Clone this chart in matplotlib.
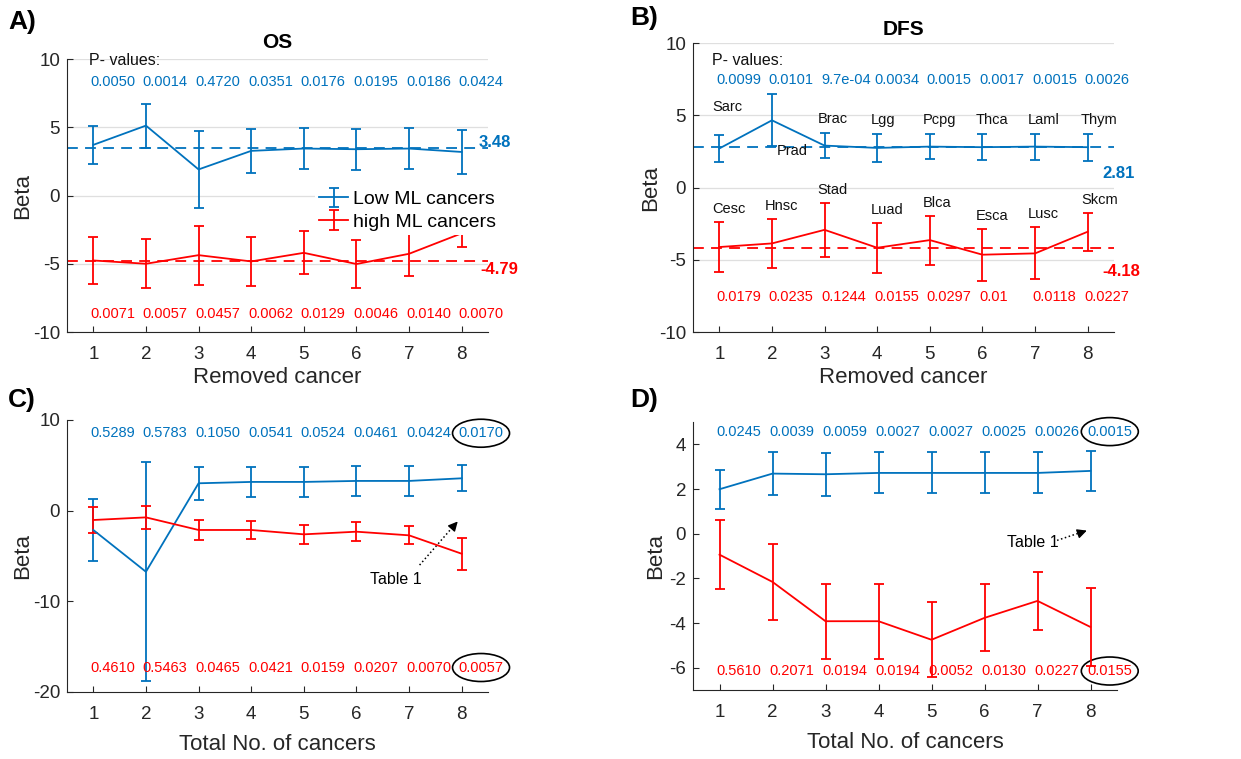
import matplotlib
matplotlib.use('Agg')
import matplotlib.pyplot as plt
from matplotlib.patches import Ellipse
import numpy as np

plt.rcParams['font.family'] = ['Liberation Sans', 'DejaVu Sans']
plt.rcParams['axes.unicode_minus'] = False

# ---- datos ----
x = [1, 2, 3, 4, 5, 6, 7, 8]

# A) OS, quitando un cancer
os_low = [3.71, 5.12, 1.91, 3.27, 3.44, 3.39, 3.44, 3.19]
os_low_err = [1.38, 1.61, 2.83, 1.59, 1.49, 1.50, 1.49, 1.61]
os_high = [-4.76, -5.00, -4.37, -4.83, -4.20, -5.02, -4.27, -2.77]
os_high_err = [1.75, 1.80, 2.17, 1.80, 1.58, 1.78, 1.60, 1.00]
os_p_low = ['0.0050', '0.0014', '0.4720', '0.0351', '0.0176', '0.0195', '0.0186', '0.0424']
os_p_high = ['0.0071', '0.0057', '0.0457', '0.0062', '0.0129', '0.0046', '0.0140', '0.0070']
os_mean_low = 3.48
os_mean_high = -4.79

# B) DFS, quitando un cancer
dfs_low = [2.70, 4.65, 2.90, 2.74, 2.83, 2.79, 2.83, 2.79]
dfs_low_err = [0.96, 1.80, 0.88, 0.96, 0.87, 0.90, 0.90, 0.93]
dfs_high = [-4.12, -3.87, -2.93, -4.17, -3.64, -4.65, -4.56, -3.06]
dfs_high_err = [1.72, 1.72, 1.85, 1.72, 1.70, 1.80, 1.80, 1.30]
dfs_p_low = ['0.0099', '0.0101', '9.7e-04', '0.0034', '0.0015', '0.0017', '0.0015', '0.0026']
dfs_p_high = ['0.0179', '0.0235', '0.1244', '0.0155', '0.0297', '0.01', '0.0118', '0.0227']
dfs_mean_low = 2.81
dfs_mean_high = -4.18
dfs_names_low = ['Sarc', 'Prad', 'Brac', 'Lgg', 'Pcpg', 'Thca', 'Laml', 'Thym']
dfs_names_high = ['Cesc', 'Hnsc', 'Stad', 'Luad', 'Blca', 'Esca', 'Lusc', 'Skcm']

# C) OS, numero total de canceres
tot_os_low = [-2.13, -6.74, 3.02, 3.17, 3.17, 3.28, 3.28, 3.57]
tot_os_low_err = [3.40, 12.10, 1.80, 1.70, 1.70, 1.65, 1.65, 1.45]
tot_os_high = [-1.03, -0.74, -2.13, -2.13, -2.61, -2.32, -2.72, -4.75]
tot_os_high_err = [1.47, 1.25, 1.10, 1.00, 1.05, 1.05, 1.00, 1.75]
tot_os_p_low = ['0.5289', '0.5783', '0.1050', '0.0541', '0.0524', '0.0461', '0.0424', '0.0170']
tot_os_p_high = ['0.4610', '0.5463', '0.0465', '0.0421', '0.0159', '0.0207', '0.0070', '0.0057']

# D) DFS, numero total de canceres
tot_dfs_low = [1.99, 2.69, 2.66, 2.72, 2.72, 2.72, 2.72, 2.81]
tot_dfs_low_err = [0.87, 0.96, 0.96, 0.92, 0.92, 0.92, 0.92, 0.89]
tot_dfs_high = [-0.94, -2.16, -3.92, -3.92, -4.75, -3.77, -3.01, -4.18]
tot_dfs_high_err = [1.55, 1.70, 1.67, 1.67, 1.69, 1.50, 1.30, 1.75]
tot_dfs_p_low = ['0.0245', '0.0039', '0.0059', '0.0027', '0.0027', '0.0025', '0.0026', '0.0015']
tot_dfs_p_high = ['0.5610', '0.2071', '0.0194', '0.0194', '0.0052', '0.0130', '0.0227', '0.0155']

azul = '#0072BD'
rojo = '#FF0000'
gris = '#262626'

W, H = 1241, 759
fig = plt.figure(figsize=(W / 100, H / 100), dpi=100)


def ejes(l, t, r, b):
    return fig.add_axes([l / W, 1 - b / H, (r - l) / W, (b - t) / H])


def estilo(ax, ylim, yticks, grid):
    ax.set_xlim(0.5, 8.5)
    ax.set_ylim(*ylim)
    ax.set_xticks(x)
    ax.set_yticks(yticks)
    for s in ['top', 'right']:
        ax.spines[s].set_visible(False)
    for s in ['left', 'bottom']:
        ax.spines[s].set_color(gris)
        ax.spines[s].set_linewidth(0.8)
    ax.tick_params(direction='in', length=4, width=0.8, colors=gris, labelsize=13.5)
    ax.tick_params(axis='x', pad=10)
    ax.tick_params(axis='y', pad=5)
    if grid:
        ax.yaxis.grid(True, color='#dfdfdf', lw=0.9)
        ax.set_axisbelow(True)


def barras(ax, m, e, c, lab=None):
    return ax.errorbar(x, m, yerr=e, color=c, lw=1.3, elinewidth=1.3,
                       capsize=3.5, capthick=1.3, label=lab)


def pvalores(ax, pl, ph, yl, yh):
    ts = []
    for i, p in enumerate(pl):
        ts.append(ax.text(x[i] - 0.06, yl, p, color=azul, fontsize=10.5, va='center', ha='left'))
    for i, p in enumerate(ph):
        ts.append(ax.text(x[i] - 0.06, yh, p, color=rojo, fontsize=10.5, va='center', ha='left'))
    return ts


# ---- A) OS ----
axA = ejes(67, 59, 488, 332)
estilo(axA, (-10, 10), [-10, -5, 0, 5, 10], True)
barras(axA, os_low, os_low_err, azul, 'Low ML cancers')
barras(axA, os_high, os_high_err, rojo, 'high ML cancers')
axA.axhline(os_mean_low, color=azul, ls='--', lw=1.3, dashes=(6, 4))
axA.axhline(os_mean_high, color=rojo, ls='--', lw=1.3, dashes=(6, 4))
axA.text(8.33, os_mean_low + 0.4, f'{os_mean_low:.2f}', color=azul, fontsize=12,
         fontweight='bold', va='center', clip_on=False)
axA.text(8.35, os_mean_high - 0.65, f'{os_mean_high:.2f}', color=rojo, fontsize=12,
         fontweight='bold', va='center', clip_on=False)
axA.text(0.92, 9.9, 'P- values:', fontsize=11.5, va='center', color='#111111')
pA = pvalores(axA, os_p_low, os_p_high, 8.34, -8.67)
leg = axA.legend(loc='upper left', bbox_to_anchor=(0.59, 0.532), frameon=True, fontsize=14,
                 handlelength=1.5, handletextpad=0.25, labelspacing=0.25, borderpad=0.2,
                 borderaxespad=0)
leg.get_frame().set_edgecolor('none')
leg.get_frame().set_facecolor('white')
leg.get_frame().set_alpha(1)
axA.set_xlabel('Removed cancer', fontsize=16, color=gris, labelpad=3)
axA.set_ylabel('Beta', fontsize=16, color=gris, labelpad=0)
axA.text(0.5, 1.062, 'OS', transform=axA.transAxes, ha='center', va='center',
         fontsize=15, fontweight='bold')

# ---- B) DFS ----
axB = ejes(693, 43, 1114, 332)
estilo(axB, (-10, 10), [-10, -5, 0, 5, 10], True)
barras(axB, dfs_low, dfs_low_err, azul)
barras(axB, dfs_high, dfs_high_err, rojo)
axB.axhline(dfs_mean_low, color=azul, ls='--', lw=1.3, dashes=(6, 4))
axB.axhline(dfs_mean_high, color=rojo, ls='--', lw=1.3, dashes=(6, 4))
axB.text(8.28, dfs_mean_low - 1.85, f'{dfs_mean_low:.2f}', color=azul, fontsize=12,
         fontweight='bold', va='center', clip_on=False)
axB.text(8.28, dfs_mean_high - 1.6, f'{dfs_mean_high:.2f}', color=rojo, fontsize=12,
         fontweight='bold', va='center', clip_on=False)
axB.text(0.87, 8.78, 'P- values:', fontsize=11.5, va='center', color='#111111')
pvalores(axB, dfs_p_low, dfs_p_high, 7.47, -7.58)
# nombres de los canceres quitados
for i, nm in enumerate(dfs_names_low):
    xt, yt = x[i] - 0.13, dfs_low[i] + dfs_low_err[i] + 0.95
    if nm == 'Sarc':
        yt = 5.6
    if nm == 'Prad':
        xt, yt = 2.1, 2.55
    axB.text(xt, yt, nm, fontsize=10.5, va='center', ha='left', color='#111111')
for i, nm in enumerate(dfs_names_high):
    axB.text(x[i] - 0.13, dfs_high[i] + dfs_high_err[i] + 0.9, nm, fontsize=10.5,
             va='center', ha='left', color='#111111')
axB.set_xlabel('Removed cancer', fontsize=16, color=gris, labelpad=3)
axB.set_ylabel('Beta', fontsize=16, color=gris, labelpad=-2)
axB.text(0.5, 1.045, 'DFS', transform=axB.transAxes, ha='center', va='center',
         fontsize=15, fontweight='bold')

# ---- C) total OS ----
axC = ejes(67, 420, 488, 692)
estilo(axC, (-20, 10), [-20, -10, 0, 10], False)
barras(axC, tot_os_low, tot_os_low_err, azul)
barras(axC, tot_os_high, tot_os_high_err, rojo)
pC = pvalores(axC, tot_os_p_low, tot_os_p_high, 8.54, -17.3)
axC.text(6.26, -7.55, 'Table 1', fontsize=11.5, va='center', ha='left')
axC.plot([7.2, 7.86], [-6.0, -1.6], ls=':', color='k', lw=1.1)
axC.annotate('', xy=(7.96, -0.96), xytext=(7.84, -1.75),
             arrowprops=dict(arrowstyle='-|>', color='k', lw=1, mutation_scale=14))
axC.set_xlabel('Total No. of cancers', fontsize=16, color=gris, labelpad=8)
axC.set_ylabel('Beta', fontsize=16, color=gris, labelpad=0)

# ---- D) total DFS ----
axD = ejes(693, 422, 1117, 690)
estilo(axD, (-7, 5), [-6, -4, -2, 0, 2, 4], False)
barras(axD, tot_dfs_low, tot_dfs_low_err, azul)
barras(axD, tot_dfs_high, tot_dfs_high_err, rojo)
pD = pvalores(axD, tot_dfs_p_low, tot_dfs_p_high, 4.57, -6.15)
axD.text(6.42, -0.375, 'Table 1', fontsize=11.5, va='center', ha='left')
axD.plot([7.37, 7.85], [-0.3, 0.08], ls=':', color='k', lw=1.1)
axD.annotate('', xy=(7.98, 0.18), xytext=(7.8, 0.03),
             arrowprops=dict(arrowstyle='-|>', color='k', lw=1, mutation_scale=14))
axD.set_xlabel('Total No. of cancers', fontsize=16, color=gris, labelpad=8)
axD.set_ylabel('Beta', fontsize=16, color=gris, labelpad=2)

# letras de los paneles
for lt, (px, py) in zip(['A)', 'B)', 'C)', 'D)'], [(8, 22), (630, 18), (8, 400), (630, 400)]):
    fig.text(px / W, 1 - py / H, lt, fontsize=19, fontweight='bold', va='center', ha='left')

# elipses alrededor de los p-valores del ultimo punto (Table 1)
fig.canvas.draw()
ren = fig.canvas.get_renderer()
for ax, ts in [(axC, pC), (axD, pD)]:
    for t in [ts[7], ts[15]]:
        bb = t.get_window_extent(ren)
        inv = ax.transData.inverted()
        (x0, y0), (x1, y1) = inv.transform([(bb.x0 - 6, bb.y0 - 7), (bb.x1 + 6, bb.y1 + 7)])
        ax.add_patch(Ellipse(((x0 + x1) / 2, (y0 + y1) / 2), x1 - x0, y1 - y0, fill=False,
                             ec='k', lw=1.2, clip_on=False))

fig.savefig('out.png', dpi=100)
